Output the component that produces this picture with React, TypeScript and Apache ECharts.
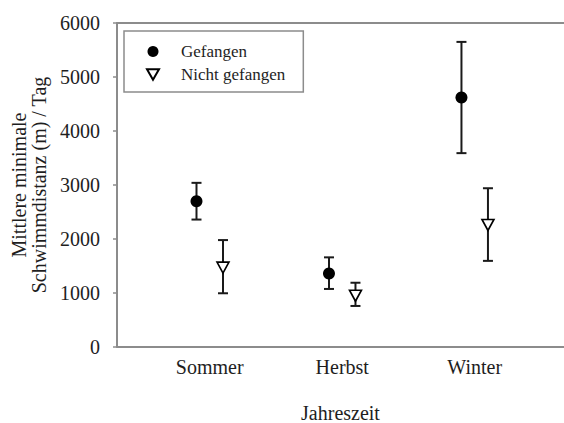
import React, { useEffect, useRef } from "react";
import * as echarts from "echarts";

const categories = ["Sommer", "Herbst", "Winter"];
const yTicks = [0, 1000, 2000, 3000, 4000, 5000, 6000];
const gefangenMean = [2700, 1360, 4620];
const gefangenLow = [2360, 1075, 3590];
const gefangenHigh = [3040, 1660, 5650];
const nichtMean = [1470, 950, 2260];
const nichtLow = [995, 760, 1595];
const nichtHigh = [1980, 1190, 2940];
const seriesNames = ["Gefangen", "Nicht gefangen"];

const OFFSET = 0.1;
const FONT = "'Liberation Serif', 'Times New Roman', serif";
const AXIS_GRAY = "#8c8c8c";
const TEXT = "#1e1e1e";
const TRI = "path://M0,0L12,0L6,10.5Z";

export default function App() {
  const ref = useRef<HTMLDivElement>(null);
  useEffect(() => {
    if (!ref.current) return;
    const chart = echarts.init(ref.current, undefined, { renderer: "svg" });
    const gPts = categories.map((_, i) => [i - OFFSET, gefangenMean[i]]);
    const nPts = categories.map((_, i) => [i + OFFSET, nichtMean[i]]);
    const gErr = categories.map((_, i) => [i - OFFSET, gefangenLow[i], gefangenHigh[i]]);
    const nErr = categories.map((_, i) => [i + OFFSET, nichtLow[i], nichtHigh[i]]);

    const errRender = (params: any, api: any) => {
      const x = api.value(0);
      const lo = api.coord([x, api.value(1)]);
      const hi = api.coord([x, api.value(2)]);
      const hw = 5;
      const style = { stroke: "#1a1a1a", lineWidth: 2 };
      return {
        type: "group",
        children: [
          { type: "line", shape: { x1: lo[0], y1: lo[1], x2: hi[0], y2: hi[1] }, style },
          { type: "line", shape: { x1: hi[0] - hw, y1: hi[1], x2: hi[0] + hw, y2: hi[1] }, style },
          { type: "line", shape: { x1: lo[0] - hw, y1: lo[1], x2: lo[0] + hw, y2: lo[1] }, style },
        ],
      };
    };

    chart.setOption({
      animation: false,
      backgroundColor: "#ffffff",
      textStyle: { fontFamily: FONT },
      grid: {
        left: 117,
        top: 23,
        right: 0,
        bottom: 76,
        containLabel: false,
        outerBoundsMode: "none",
      },
      legend: {
        left: 124,
        top: 31,
        orient: "vertical",
        data: seriesNames,
        itemWidth: 12,
        itemHeight: 11,
        itemGap: 6,
        padding: [12, 18, 9, 22],
        borderColor: "#8c8c8c",
        borderWidth: 1.5,
        borderRadius: 0,
        textStyle: { fontFamily: FONT, fontSize: 17, color: TEXT, padding: [0, 0, 0, 17] },
      },
      xAxis: [
        {
          type: "value",
          min: -0.7,
          max: 2.674,
          position: "bottom",
          name: "Jahreszeit",
          nameLocation: "middle",
          nameGap: 56,
          nameTextStyle: { fontFamily: FONT, fontSize: 20, color: TEXT },
          axisLine: { show: true, onZero: false, lineStyle: { color: AXIS_GRAY, width: 2 } },
          axisTick: { show: false },
          splitLine: { show: false },
          axisLabel: {
            customValues: [0, 1, 2],
            formatter: (v: number) => categories[Math.round(v)] ?? "",
            fontFamily: FONT,
            fontSize: 20,
            color: TEXT,
            margin: 10,
          },
        },
        {
          type: "value",
          min: -0.7,
          max: 2.674,
          position: "top",
          axisLine: { show: true, onZero: false, lineStyle: { color: AXIS_GRAY, width: 2 } },
          axisTick: { show: false },
          axisLabel: { show: false },
          splitLine: { show: false },
        },
      ],
      yAxis: {
        type: "value",
        min: 0,
        max: 6000,
        interval: 1000,
        name: "Mittlere minimale\nSchwimmdistanz (m) / Tag",
        nameLocation: "middle",
        nameGap: 67,
        nameTextStyle: { fontFamily: FONT, fontSize: 20, color: TEXT, lineHeight: 20 },
        axisLine: { show: true, onZero: false, lineStyle: { color: AXIS_GRAY, width: 2 } },
        axisTick: { show: true, inside: false, length: 4, lineStyle: { color: AXIS_GRAY, width: 1.5 } },
        splitLine: { show: false },
        axisLabel: {
          customValues: yTicks,
          formatter: (v: number) => String(v),
          fontFamily: FONT,
          fontSize: 20,
          color: TEXT,
          margin: 17,
        },
      },
      series: [
        {
          type: "custom",
          name: "err-g",
          renderItem: errRender,
          data: gErr,
          encode: { x: 0, y: [1, 2] },
          z: 2,
          silent: true,
        },
        {
          type: "custom",
          name: "err-n",
          renderItem: errRender,
          data: nErr,
          encode: { x: 0, y: [1, 2] },
          z: 2,
          silent: true,
        },
        {
          type: "scatter",
          name: seriesNames[0],
          data: gPts,
          symbol: "circle",
          symbolSize: 12,
          itemStyle: { color: "#000000", opacity: 1 },
          z: 5,
        },
        {
          type: "scatter",
          name: seriesNames[1],
          data: nPts,
          symbol: TRI,
          symbolSize: [12, 11],
          itemStyle: { color: "#ffffff", borderColor: "#000000", borderWidth: 1.6, opacity: 1 },
          z: 5,
        },
      ],
    });
    return () => chart.dispose();
  }, []);
  return (
    <div
      ref={ref}
      style={{ position: "fixed", left: 0, top: 0, width: 564, height: 423, background: "#fff" }}
    />
  );
}
